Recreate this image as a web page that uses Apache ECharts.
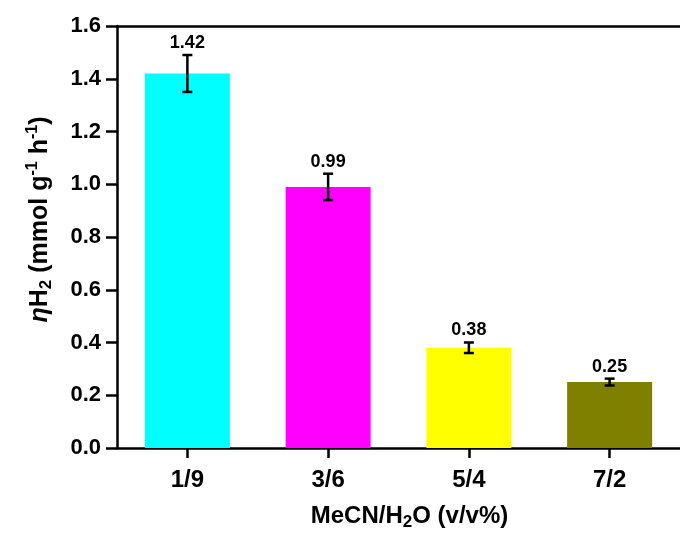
<!DOCTYPE html>
<html>
<head>
<meta charset="utf-8">
<script src="https://cdn.jsdelivr.net/npm/echarts@6/dist/echarts.min.js"></script>
<style>
  html, body { margin: 0; padding: 0; background: #fff; }
  #chart { width: 680px; height: 536px; }
</style>
</head>
<body>
<div id="chart"></div>
<script>
// Solvent ratios (MeCN/H2O, v/v%)
const categories = ['1/9', '3/6', '5/4', '7/2'];
// H2 evolution rate, mmol g-1 h-1
const rates = [1.42, 0.99, 0.38, 0.25];
// Error bar half-widths
const errors = [0.07, 0.05, 0.02, 0.013];
const barColors = ['#00FFFF', '#FF00FF', '#FFFF00', '#808000'];
// Value axis ticks
const yMin = 0, yMax = 1.6, yStep = 0.2;

const ARIAL = '"Liberation Sans", Arial, sans-serif';

const chart = echarts.init(document.getElementById('chart'), null, { renderer: 'canvas' });

const titleRich = {
  b:   { fontFamily: ARIAL, fontWeight: 'bold', fontSize: 25, lineHeight: 30, color: '#000' },
  eta: { fontFamily: ARIAL, fontWeight: 'bold', fontStyle: 'italic', fontSize: 25, lineHeight: 30, color: '#000' },
  sup: { fontFamily: ARIAL, fontWeight: 'bold', fontSize: 16, lineHeight: 15, verticalAlign: 'top', color: '#000' },
  sub: { fontFamily: ARIAL, fontWeight: 'bold', fontSize: 17, lineHeight: 15, verticalAlign: 'bottom', color: '#000' }
};
const xTitleRich = {
  b:   { fontFamily: ARIAL, fontWeight: 'bold', fontSize: 24, lineHeight: 30, color: '#000' },
  sub: { fontFamily: ARIAL, fontWeight: 'bold', fontSize: 17, lineHeight: 15, verticalAlign: 'bottom', color: '#000' }
};

const axisLineStyle = { color: '#000', width: 2.5 };

chart.setOption({
  animation: false,
  backgroundColor: '#fff',
  grid: { left: 117, top: 26, bottom: 84, right: -9 },
  xAxis: [{
    type: 'category',
    data: categories,
    position: 'bottom',
    axisLine: { show: true, lineStyle: axisLineStyle },
    axisTick: { show: true, alignWithLabel: true, length: 10, lineStyle: axisLineStyle },
    axisLabel: { margin: 20, fontFamily: ARIAL, fontWeight: 'bold', fontSize: 24, color: '#000' },
    splitLine: { show: false },
    name: '{b|MeCN/H}{sub|2}{b|O (v/v%)}',
    nameLocation: 'middle',
    nameGap: 53,
    nameTextStyle: { rich: xTitleRich, padding: [0, 0, 0, 22] }
  }, {
    type: 'category',
    data: categories,
    position: 'top',
    axisLine: { show: true, lineStyle: axisLineStyle },
    axisTick: { show: false },
    axisLabel: { show: false }
  }],
  yAxis: {
    type: 'value',
    min: yMin,
    max: yMax,
    interval: yStep,
    axisLine: { show: true, lineStyle: axisLineStyle },
    axisTick: { show: true, length: 11, lineStyle: axisLineStyle },
    axisLabel: {
      margin: 16, fontFamily: ARIAL, fontWeight: 'bold', fontSize: 22, color: '#000',
      formatter: v => v.toFixed(1)
    },
    splitLine: { show: false },
    name: '{eta|η}{b|H}{sub|2}{b| (mmol g}{sup|-1}{b| h}{sup|-1}{b|)}',
    nameLocation: 'middle',
    nameGap: 62,
    nameTextStyle: { rich: titleRich, padding: [0, 0, 0, 35] }
  },
  series: [{
    type: 'bar',
    barWidth: 85,
    data: rates.map((v, i) => ({ value: v, itemStyle: { color: barColors[i] } })),
    z: 2
  }, {
    type: 'custom',
    z: 5,
    data: rates.map((v, i) => [i, v, errors[i]]),
    encode: { x: 0, y: 1 },
    renderItem: function (params, api) {
      const i = api.value(0), v = api.value(1), e = api.value(2);
      const x = api.coord([i, v])[0];
      const yTop = api.coord([i, v + e])[1];
      const yBot = api.coord([i, v - e])[1];
      const half = 5;
      const st = { stroke: '#000', lineWidth: 2.5 };
      return {
        type: 'group',
        children: [
          { type: 'line', shape: { x1: x, y1: yTop, x2: x, y2: yBot }, style: st },
          { type: 'line', shape: { x1: x - half, y1: yTop, x2: x + half, y2: yTop }, style: st },
          { type: 'line', shape: { x1: x - half, y1: yBot, x2: x + half, y2: yBot }, style: st },
          {
            type: 'text', x: x, y: yTop - 12,
            style: {
              text: v.toFixed(2), fill: '#000',
              font: 'bold 18px ' + ARIAL,
              align: 'center', verticalAlign: 'middle'
            }
          }
        ]
      };
    }
  }]
});
</script>
</body>
</html>
